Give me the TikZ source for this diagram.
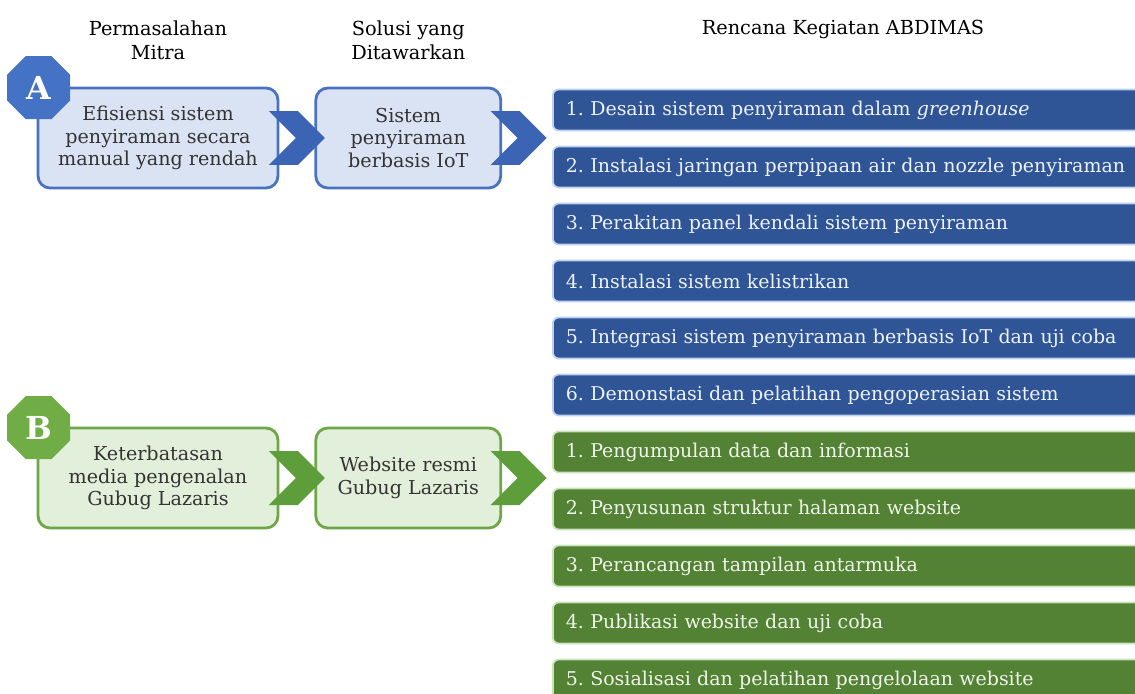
\documentclass[tikz,border=0pt]{standalone}
\usepackage{fontspec}
\setmainfont{DejaVu Serif}
\usetikzlibrary{positioning,shapes.geometric,shapes.symbols,calc}
\frenchspacing

\definecolor{blueline}{HTML}{4A72C0}
\definecolor{bluefill}{HTML}{DAE3F3}
\definecolor{bluechev}{HTML}{3C64B4}
\definecolor{bluebadge}{HTML}{4472C4}
\definecolor{bluebar}{HTML}{2F5597}
\definecolor{blueglow}{HTML}{BDD0EE}
\definecolor{bluetxt}{HTML}{EEF2FA}
\definecolor{greenline}{HTML}{6FA647}
\definecolor{greenfill}{HTML}{E2EFDA}
\definecolor{greenchev}{HTML}{5E9E3A}
\definecolor{greenbadge}{HTML}{70AD47}
\definecolor{greenbar}{HTML}{548235}
\definecolor{greenglow}{HTML}{C9E2B8}
\definecolor{greentxt}{HTML}{EFF5EA}

\tikzset{
  head/.style={align=center, font=\fontsize{11}{13.5}\selectfont, text=black},
  probbox/.style={draw=#1line, fill=#1fill, line width=1.6pt, rounded corners=0.24cm,
    minimum width=4.8cm, minimum height=2cm, align=center, text=black!80,
    font=\fontsize{10.9}{13}\selectfont},
  badge/.style={regular polygon, regular polygon sides=8, fill=#1badge, minimum size=1.36cm,
    inner sep=0pt, text=white, font=\fontsize{18}{18}\selectfont\bfseries},
  chev/.style={signal, signal from=west, signal to=east, fill=#1chev, draw=none,
    minimum width=1.12cm, minimum height=1.08cm, inner sep=0pt},
  actbar/.style={fill=#1bar, draw=#1glow, line width=1pt, rounded corners=0.12cm,
    minimum height=0.82cm, text width=11.4cm, inner xsep=0.26cm, align=left,
    anchor=west, text=#1txt, font=\fontsize{10.8}{12}\selectfont}
}

\begin{document}
\begin{tikzpicture}[x=0.02cm,y=-0.02cm]
  \useasboundingbox (0,0) rectangle (1135,693);

  % kolom judul
  \node[probbox=blue] (a1) at (158,138) {Efisiensi sistem\\penyiraman secara\\manual yang rendah};
  \node[probbox=blue, minimum width=3.7cm, right=0.7cm of a1] (a2) {Sistem\\penyiraman\\berbasis IoT};
  \node[probbox=green] (b1) at (158,478) {Keterbatasan\\media pengenalan\\Gubug Lazaris};
  \node[probbox=green, minimum width=3.7cm, right=0.7cm of b1] (b2) {Website resmi\\Gubug Lazaris};

  \node[head, above=0.42cm of a1] (h1) {Permasalahan\\Mitra};
  \node[head, above=0.42cm of a2] (h2) {Solusi yang\\Ditawarkan};
  \node[head] (h3) at (843,29) {Rencana Kegiatan ABDIMAS};

  \node[badge=blue] (ka) at ($(a1.north west)+(2,1)$) {A};
  \node[badge=green] (kb) at ($(b1.north west)+(2,1)$) {B};

  \node[chev=blue, anchor=west] (ca1) at ($(a1.east)+(16,0)$) {};
  \node[chev=blue, anchor=west] (ca2) at ($(a2.east)+(15,0)$) {};
  \node[chev=green, anchor=west] (cb1) at ($(b1.east)+(16,0)$) {};
  \node[chev=green, anchor=west] (cb2) at ($(b2.east)+(15,0)$) {};

  % rencana kegiatan
  \foreach \txt [count=\i from 0] in {%
      1. Desain sistem penyiraman dalam \textit{greenhouse},
      2. Instalasi jaringan perpipaan air dan nozzle penyiraman,
      3. Perakitan panel kendali sistem penyiraman,
      4. Instalasi sistem kelistrikan,
      5. Integrasi sistem penyiraman berbasis IoT dan uji coba,
      6. Demonstasi dan pelatihan pengoperasian sistem}
    \node[actbar=blue] (ra\i) at (552,{110+57*\i}) {\txt};
  \foreach \txt [count=\i from 6] in {%
      1. Pengumpulan data dan informasi,
      2. Penyusunan struktur halaman website,
      3. Perancangan tampilan antarmuka,
      4. Publikasi website dan uji coba,
      5. Sosialisasi dan pelatihan pengelolaan website}
    \node[actbar=green] (rb\i) at (552,{110+57*\i}) {\txt};
\end{tikzpicture}
\end{document}
